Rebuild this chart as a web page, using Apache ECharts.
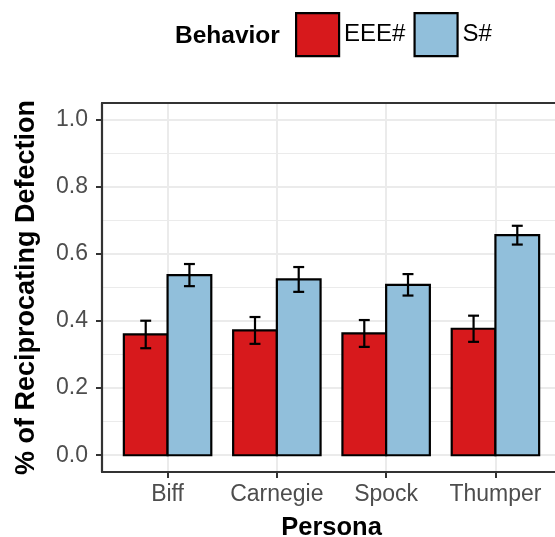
<!DOCTYPE html>
<html>
<head>
<meta charset="utf-8">
<script src="https://cdn.jsdelivr.net/npm/echarts@6/dist/echarts.min.js"></script>
<style>
html,body{margin:0;padding:0;background:#fff;overflow:hidden;}
#chart{width:555px;height:537px;}
</style>
</head>
<body>
<div id="chart"></div>
<script>
const categories = ['Biff', 'Carnegie', 'Spock', 'Thumper'];
const seriesNames = ['EEE#', 'S#'];
const eeeValues = [0.360, 0.372, 0.363, 0.377];
const eeeErrors = [0.041, 0.040, 0.040, 0.039];
const sValues = [0.537, 0.524, 0.508, 0.656];
const sErrors = [0.033, 0.037, 0.032, 0.028];
const yTicks = [0, 0.2, 0.4, 0.6, 0.8, 1.0];
const yMinorTicks = [0.1, 0.3, 0.5, 0.7, 0.9];
const xTicks = categories.map((c, i) => i + 1);

const FONT = '"Liberation Sans", Arial, Helvetica, sans-serif';
const colors = ['#D7191C', '#91BFDB'];
const BORDER = { color: '#333333', width: 2.2 };

function buildData(vals, errs) {
  return vals.map((v, i) => [i + 1, v, errs[i]]);
}

function makeRender(offset, color) {
  return function (params, api) {
    const xc = api.value(0) + offset;
    const v = api.value(1);
    const e = api.value(2);
    const p0 = api.coord([xc - 0.2, v]);
    const p1 = api.coord([xc + 0.2, 0]);
    const top = api.coord([xc, v + e]);
    const bot = api.coord([xc, v - e]);
    const capL = api.coord([xc - 0.05, 0])[0];
    const capR = api.coord([xc + 0.05, 0])[0];
    const lineStyle = { stroke: '#000', lineWidth: 2.2, fill: null };
    return {
      type: 'group',
      children: [
        { type: 'rect', shape: { x: p0[0], y: p0[1], width: p1[0] - p0[0], height: p1[1] - p0[1] },
          style: { fill: color, stroke: '#000', lineWidth: 2.2 } },
        { type: 'line', shape: { x1: top[0], y1: top[1], x2: bot[0], y2: bot[1] }, style: lineStyle },
        { type: 'line', shape: { x1: capL, y1: top[1], x2: capR, y2: top[1] }, style: lineStyle },
        { type: 'line', shape: { x1: capL, y1: bot[1], x2: capR, y2: bot[1] }, style: lineStyle }
      ]
    };
  };
}

const chart = echarts.init(document.getElementById('chart'), null, { renderer: 'canvas' });
chart.setOption({
  animation: false,
  backgroundColor: '#ffffff',
  textStyle: { fontFamily: FONT },
  title: {
    text: 'Behavior', left: 170, top: 19,
    textStyle: { fontFamily: FONT, fontSize: 24.5, fontWeight: 'bold', color: '#000' }
  },
  legend: {
    left: 290, top: 7,
    itemWidth: 43, itemHeight: 43, itemGap: 8,
    icon: 'rect',
    textStyle: { fontFamily: FONT, fontSize: 24, color: '#000' },
    data: seriesNames.map((n, i) => ({ name: n, itemStyle: { color: colors[i], borderColor: '#000', borderWidth: 2.2 } }))
  },
  grid: {
    left: 102, top: 103, width: 459, height: 369,
    outerBoundsMode: 'none',
    show: false
  },
  xAxis: [{
    type: 'value', min: 0.4, max: 4.6, position: 'bottom',
    name: 'Persona', nameLocation: 'middle', nameGap: 43,
    nameTextStyle: { fontFamily: FONT, fontSize: 25.5, fontWeight: 'bold', color: '#000' },
    axisLine: { show: true, onZero: false, lineStyle: BORDER },
    axisTick: { show: true, length: 6, customValues: xTicks, lineStyle: { color: '#333333', width: 2 } },
    axisLabel: {
      customValues: xTicks, margin: 11,
      fontFamily: FONT, fontSize: 23, color: '#4D4D4D',
      formatter: v => categories[Math.round(v) - 1] || ''
    },
    splitLine: { show: true, lineStyle: { color: '#EBEBEB', width: 2 } }
  }, {
    type: 'value', min: 0.4, max: 4.6, position: 'top',
    axisLine: { show: true, onZero: false, lineStyle: BORDER },
    axisTick: { show: false },
    axisLabel: { show: false },
    splitLine: { show: false }
  }],
  yAxis: [{
    type: 'value', min: -0.05, max: 1.05, position: 'left',
    name: '% of Reciprocating Defection', nameLocation: 'middle', nameGap: 62, nameRotate: 90,
    nameTextStyle: { fontFamily: FONT, fontSize: 27, fontWeight: 'bold', color: '#000' },
    axisLine: { show: true, onZero: false, lineStyle: BORDER },
    axisTick: { show: true, length: 6, customValues: yTicks, lineStyle: { color: '#333333', width: 2 } },
    axisLabel: {
      customValues: yTicks, margin: 14,
      fontFamily: FONT, fontSize: 23, color: '#4D4D4D',
      formatter: v => v.toFixed(1)
    },
    splitLine: { show: true, lineStyle: { color: '#EBEBEB', width: 2 } }
  }],
  series: [
    { name: 'minor-grid', type: 'line', data: [], z: 0, zlevel: 0, silent: true,
      markLine: {
        z: 0, silent: true, symbol: ['none', 'none'], label: { show: false },
        lineStyle: { color: '#EBEBEB', width: 1, type: 'solid' },
        emphasis: { disabled: true },
        data: yMinorTicks.map(v => ({ yAxis: v }))
      } },
    { name: seriesNames[0], type: 'custom', xAxisIndex: 0, yAxisIndex: 0, z: 10,
      itemStyle: { color: colors[0] },
      encode: { x: 0, y: 1 },
      renderItem: makeRender(-0.2, colors[0]),
      data: buildData(eeeValues, eeeErrors) },
    { name: seriesNames[1], type: 'custom', xAxisIndex: 0, yAxisIndex: 0, z: 10,
      itemStyle: { color: colors[1] },
      encode: { x: 0, y: 1 },
      renderItem: makeRender(0.2, colors[1]),
      data: buildData(sValues, sErrors) }
  ]
});
</script>
</body>
</html>
